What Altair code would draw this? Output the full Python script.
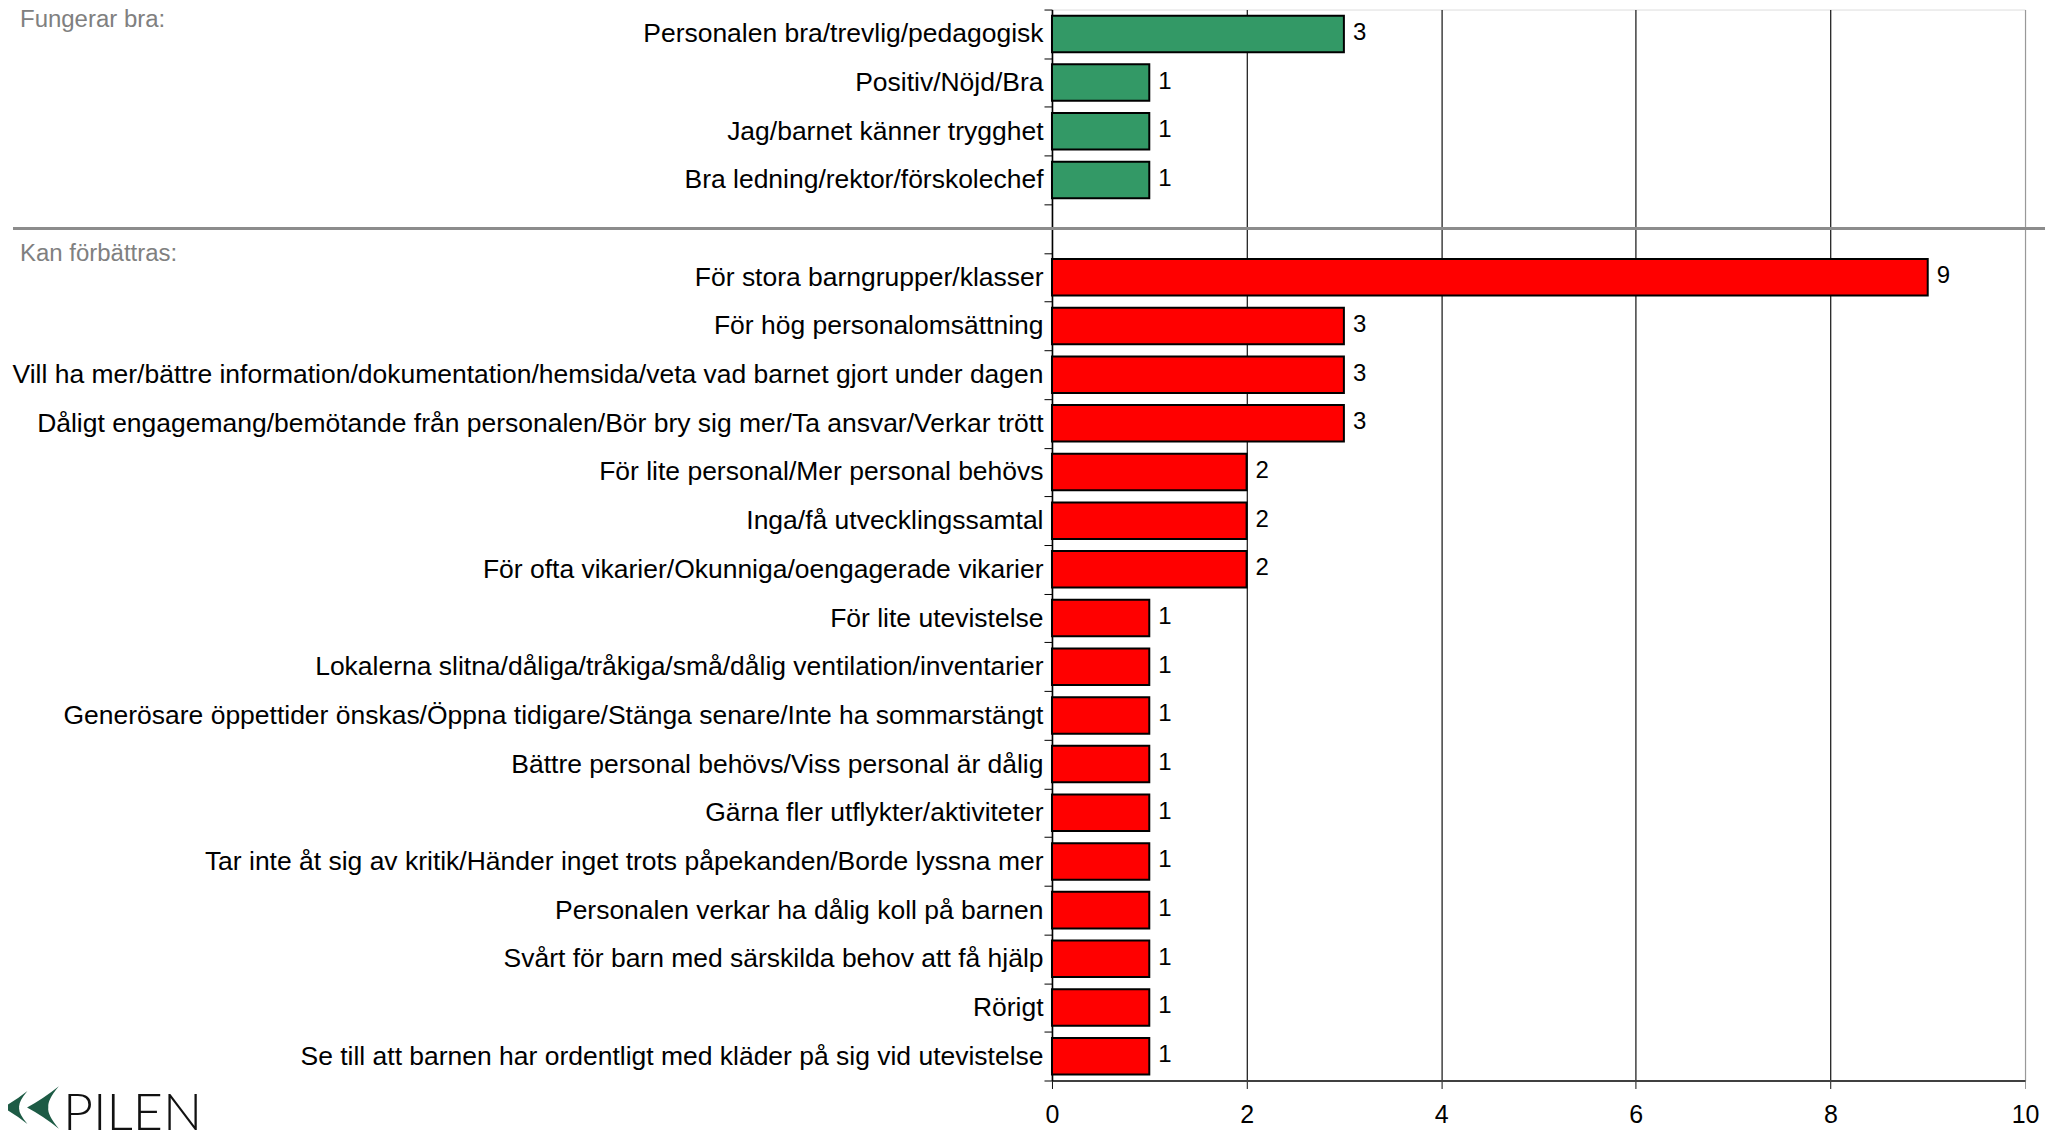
import altair as alt
import pandas as pd

green_labels = [
    "Personalen bra/trevlig/pedagogisk",
    "Positiv/Nöjd/Bra",
    "Jag/barnet känner trygghet",
    "Bra ledning/rektor/förskolechef",
]
green_values = [3, 1, 1, 1]

red_labels = [
    "För stora barngrupper/klasser",
    "För hög personalomsättning",
    "Vill ha mer/bättre information/dokumentation/hemsida/veta vad barnet gjort under dagen",
    "Dåligt engagemang/bemötande från personalen/Bör bry sig mer/Ta ansvar/Verkar trött",
    "För lite personal/Mer personal behövs",
    "Inga/få utvecklingssamtal",
    "För ofta vikarier/Okunniga/oengagerade vikarier",
    "För lite utevistelse",
    "Lokalerna slitna/dåliga/tråkiga/små/dålig ventilation/inventarier",
    "Generösare öppettider önskas/Öppna tidigare/Stänga senare/Inte ha sommarstängt",
    "Bättre personal behövs/Viss personal är dålig",
    "Gärna fler utflykter/aktiviteter",
    "Tar inte åt sig av kritik/Händer inget trots påpekanden/Borde lyssna mer",
    "Personalen verkar ha dålig koll på barnen",
    "Svårt för barn med särskilda behov att få hjälp",
    "Rörigt",
    "Se till att barnen har ordentligt med kläder på sig vid utevistelse",
]
red_values = [9, 3, 3, 3, 2, 2, 2, 1, 1, 1, 1, 1, 1, 1, 1, 1, 1]

groups = ["Fungerar bra", "Kan förbättras"]
section_titles = ["Fungerar bra:", "Kan förbättras:"]
gap = " "
x_ticks = [0, 2, 4, 6, 8, 10]

domain = green_labels + [gap] + red_labels

df = pd.DataFrame({
    "cat": green_labels + red_labels,
    "value": green_values + red_values,
    "group": [groups[0]] * len(green_labels) + [groups[1]] * len(red_labels),
})

FONT = "Liberation Sans"
W, H = 974, 1072

y_enc = alt.Y(
    "cat:N",
    sort=domain,
    scale=alt.Scale(domain=domain, paddingInner=0, paddingOuter=0),
    axis=alt.Axis(
        title=None,
        labelFontSize=26.5,
        labelFont=FONT,
        labelColor="#000000",
        labelLimit=0,
        labelPadding=1,
        tickBand="extent",
        tickSize=8,
        tickColor="#000000",
        domainColor="#000000",
        domainWidth=1.5,
        grid=False,
    ),
)

x_enc = alt.X(
    "value:Q",
    scale=alt.Scale(domain=[0, 10], nice=False),
    axis=alt.Axis(
        title=None,
        values=x_ticks,
        format="d",
        labelFlush=False,
        grid=True,
        gridColor={"condition": {"test": "datum.value === 10", "value": "#999999"}, "value": "#111111"},
        gridWidth=1.2,
        tickColor={"condition": {"test": "datum.value === 10", "value": "#999999"}, "value": "#111111"},
        tickSize=8,
        labelFontSize=25,
        labelFont=FONT,
        labelColor="#000000",
        labelPadding=14,
        domainColor="#404040",
        domainWidth=2,
    ),
)

base = alt.Chart(df)

bars = base.mark_bar(height={"band": 0.75}, stroke="#000000", strokeWidth=2).encode(
    x=x_enc,
    y=y_enc,
    color=alt.Color("group:N", scale=alt.Scale(domain=groups, range=["#339966", "#ff0000"]), legend=None),
)

values_txt = base.mark_text(align="left", baseline="middle", dx=9, dy=-1, fontSize=24, font=FONT, color="#000000").encode(
    x="value:Q",
    y=alt.Y("cat:N", sort=domain),
    text="value:Q",
)

sep = alt.Chart(pd.DataFrame({"cat": [gap]})).mark_rule(color="#8c8c8c", strokeWidth=3).encode(
    y=alt.Y("cat:N", sort=domain),
    x=alt.value(-1040),
    x2=alt.value(994),
)

sec1 = alt.Chart(pd.DataFrame({"t": [section_titles[0]]})).mark_text(
    align="left", baseline="alphabetic", fontSize=24, font=FONT, color="#808080"
).encode(x=alt.value(-1033), y=alt.value(17), text="t:N")

sec2 = alt.Chart(pd.DataFrame({"t": [section_titles[1]]})).mark_text(
    align="left", baseline="alphabetic", fontSize=24, font=FONT, color="#808080"
).encode(x=alt.value(-1033), y=alt.value(252), text="t:N")

logo_txt = alt.Chart(pd.DataFrame({"t": ["PILEN"]})).mark_text(
    align="left", baseline="alphabetic", fontSize=52, font="Lato", fontWeight=300, color="#111111"
).encode(x=alt.value(-990), y=alt.value(1122), text="t:N")

chev_path = "M-0.75,0 Q0,-0.4 0.75,-1 Q0.2,-0.35 0.25,0 Q0.2,0.35 0.75,1 Q0,0.4 -0.75,0 Z"
chev1 = alt.Chart(pd.DataFrame({"k": [1]})).mark_point(
    shape=chev_path, size=1100, filled=True, color="#1d5b45", opacity=1
).encode(x=alt.value(-1038), y=alt.value(1099))
chev2 = alt.Chart(pd.DataFrame({"k": [2]})).mark_point(
    shape=chev_path, size=1800, filled=True, color="#1d5b45", opacity=1
).encode(x=alt.value(-1010), y=alt.value(1099))

chart = alt.layer(bars, values_txt, sep, sec1, sec2, logo_txt, chev1, chev2).properties(
    width=W,
    height=H,
    autosize=alt.AutoSizeParams(type="none"),
    padding={"left": 1045, "top": 1, "right": 30, "bottom": 50},
).configure_view(stroke="#999999", strokeWidth=2).configure(font=FONT)

chart.save("out.html", embed_options={"renderer": "svg", "actions": False})
